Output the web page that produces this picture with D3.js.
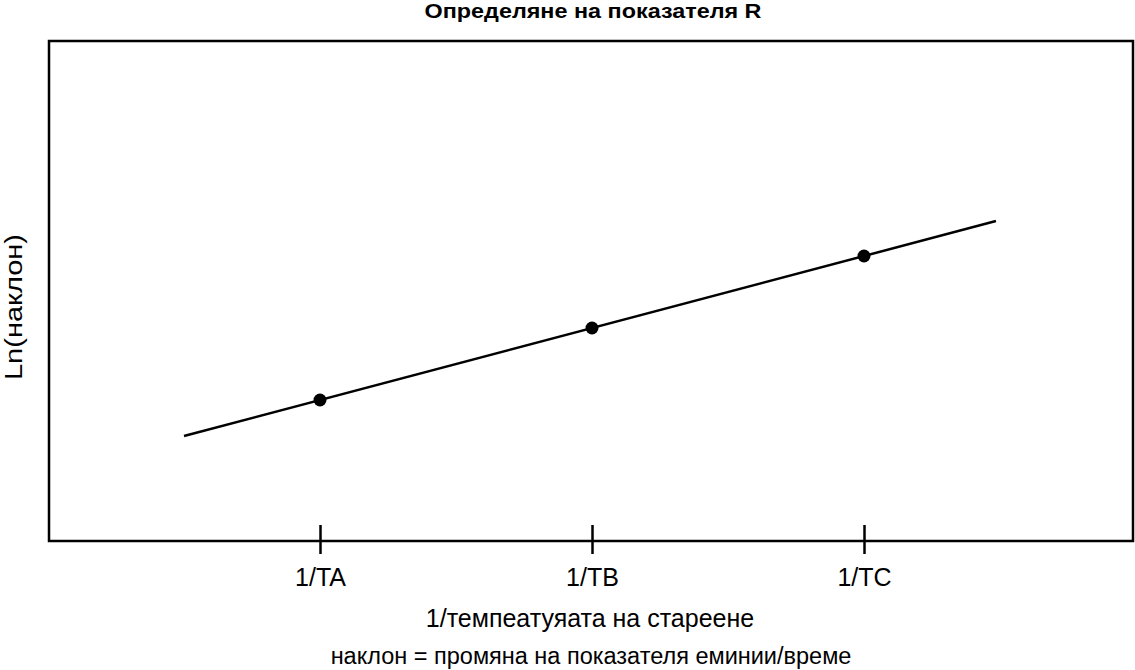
<!DOCTYPE html>
<html><head><meta charset="utf-8">
<script src="https://cdn.jsdelivr.net/npm/d3@7"></script>
<style>
html,body{margin:0;padding:0;background:#fff;}
svg{display:block;font-family:"Liberation Sans",Arial,sans-serif;}
</style></head>
<body>
<svg id="chart" width="1135" height="670"></svg>
<script>
// Data
const categories = ["1/TA", "1/TB", "1/TC"];
const categoryX = [1, 2, 3];
const pointValues = [2, 3, 4];
const fitLineX = [0.5, 3.485];
const fitLineY = [1.5, 4.485];
const titleText = "Определяне на показателя R";
const xTitle = "1/темпеатуяата на стареене";
const xNote = "наклон = промяна на показателя еминии/време";
const yTitle = "Ln(наклон)";

const svg = d3.select("#chart");
const L = 49, R = 1133, T = 41, B = 541;

const x = d3.scaleLinear().domain([0, 4]).range([48, 1136]);
const y = d3.scaleLinear().domain([0, 7]).range([544, 40]);

// frame
svg.append("rect").attr("x", L).attr("y", T).attr("width", R - L).attr("height", B - T)
  .attr("fill", "none").attr("stroke", "#000").attr("stroke-width", 2.5);

// x axis ticks
const axis = d3.axisBottom(x).tickValues(categoryX)
  .tickFormat((d, i) => categories[i]).tickSize(13).tickPadding(14);
const gx = svg.append("g").attr("transform", `translate(0,${B})`).call(axis);
gx.select(".domain").remove();
gx.selectAll(".tick line").attr("y1", -16).attr("y2", 13).attr("stroke", "#000").attr("stroke-width", 2.5);
gx.selectAll(".tick text").attr("font-size", 25).attr("fill", "#000")
  .attr("font-family", "'Liberation Sans',Arial,sans-serif");

// fit line
const line = d3.line().x(d => x(d[0])).y(d => y(d[1]));
svg.append("path").datum(fitLineX.map((v, i) => [v, fitLineY[i]]))
  .attr("d", line).attr("fill", "none").attr("stroke", "#000").attr("stroke-width", 2.5);

// points
svg.selectAll("circle.pt").data(categoryX).enter().append("circle")
  .attr("class", "pt").attr("cx", d => x(d)).attr("cy", (d, i) => y(pointValues[i]))
  .attr("r", 6.5).attr("fill", "#000");

// texts
svg.append("text").attr("x", 593).attr("y", 18).attr("text-anchor", "middle")
  .attr("font-weight", "bold").attr("font-size", 21)
  .attr("textLength", 337).attr("lengthAdjust", "spacingAndGlyphs").text(titleText);
svg.append("text").attr("x", 590).attr("y", 627).attr("text-anchor", "middle")
  .attr("font-size", 25).text(xTitle);
svg.append("text").attr("x", 591).attr("y", 664).attr("text-anchor", "middle")
  .attr("font-size", 23.5).text(xNote);
svg.append("text").attr("transform", "translate(22,307) rotate(-90)").attr("text-anchor", "middle")
  .attr("font-size", 23).attr("textLength", 146).attr("lengthAdjust", "spacingAndGlyphs").text(yTitle);
</script>
</body></html>
